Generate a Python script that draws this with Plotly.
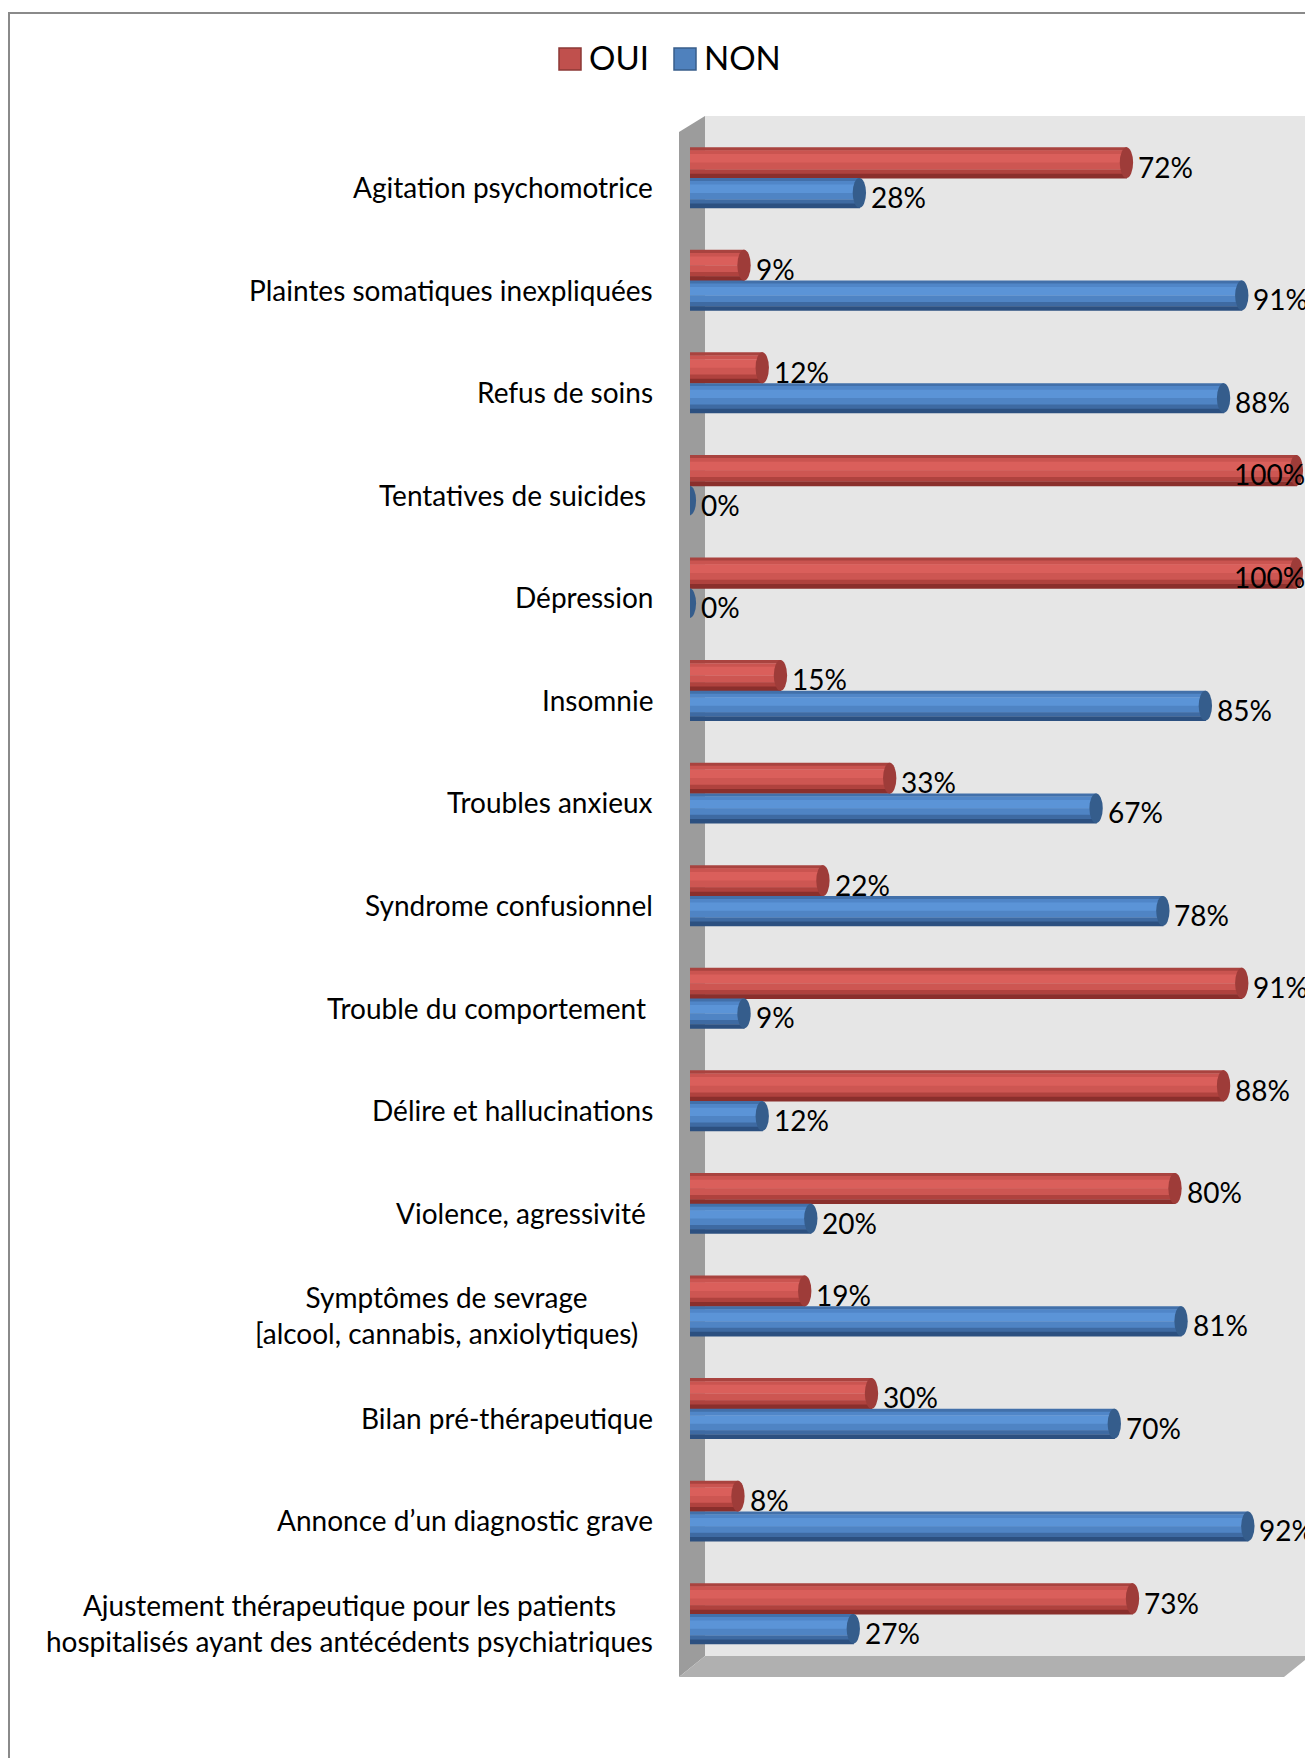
import plotly.graph_objects as go

# ---- data -------------------------------------------------------------
categories = [
    "Agitation psychomotrice",
    "Plaintes somatiques inexpliquées",
    "Refus de soins",
    "Tentatives de suicides ",
    "Dépression",
    "Insomnie",
    "Troubles anxieux",
    "Syndrome confusionnel",
    "Trouble du comportement ",
    "Délire et hallucinations",
    "Violence, agressivité ",
    "Symptômes de sevrage  <br>[alcool, cannabis, anxiolytiques)  ",
    "Bilan pré-thérapeutique",
    "Annonce d’un diagnostic grave",
    "Ajustement thérapeutique pour les patients<br>hospitalisés ayant des antécédents psychiatriques",
]
oui = [72, 9, 12, 100, 100, 15, 33, 22, 91, 88, 80, 19, 30, 8, 73]
non = [28, 91, 88, 0, 0, 85, 67, 78, 9, 12, 20, 81, 70, 92, 27]
series_names = ["OUI", "NON"]

# ---- canvas geometry (pixels) ------------------------------------------
W, H = 1305, 1758
FONT = "Lato, 'Open Sans', sans-serif"


def px(x):
    return x / W


def py(y):
    return 1 - y / H


X0_PX = 690.0            # value 0
PX_PER_PCT = 6.07        # pixels per percent
X_MAX = (W - X0_PX) / PX_PER_PCT
Y_FIRST, Y_STEP = 178.0, 102.57   # first group centre, group spacing
y_top_px = Y_FIRST - 0.5 * Y_STEP
y_bot_px = Y_FIRST + (len(categories) - 0.5) * Y_STEP

idx = list(range(len(categories)))

# cylinder shading: (from, to, colour) as fractions of bar thickness
red_bands = [
    (0.00, 0.10, "#A9433F"),
    (0.10, 0.22, "#CA5450"),
    (0.22, 0.50, "#DA5F5B"),
    (0.50, 0.72, "#CD5652"),
    (0.72, 0.86, "#AF423E"),
    (0.86, 1.00, "#8A2F2C"),
]
blue_bands = [
    (0.00, 0.10, "#4270AA"),
    (0.10, 0.22, "#5086C8"),
    (0.22, 0.50, "#5B94D7"),
    (0.50, 0.72, "#4F84C4"),
    (0.72, 0.86, "#3E6AA2"),
    (0.86, 1.00, "#2C5080"),
]

series = [
    dict(name=series_names[0], values=oui, offset=-0.30, width=0.30,
         bands=red_bands, cap="#9E3C39", legend="#C0504D", legend_line="#8C3836"),
    dict(name=series_names[1], values=non, offset=0.0, width=0.29,
         bands=blue_bands, cap="#355D8C", legend="#4F81BD", legend_line="#385D8A"),
]

fig = go.Figure()
shapes = []
annotations = []

# ---- 3D box: back wall, left wall, floor, outer border -----------------
shapes.append(dict(type="rect", xref="paper", yref="paper",
                   x0=px(705), x1=px(W + 10), y0=py(1656), y1=py(116),
                   fillcolor="#E6E6E6", line_width=0, layer="below"))


def poly(points):
    d = "M " + " L ".join(f"{px(a):.5f},{py(b):.5f}" for a, b in points) + " Z"
    return d


shapes.append(dict(type="path", xref="paper", yref="paper",
                   path=poly([(679, 132), (705, 116), (705, 1656), (679, 1677)]),
                   fillcolor="#9C9C9C", line_width=0, layer="below"))
shapes.append(dict(type="path", xref="paper", yref="paper",
                   path=poly([(679, 1677), (705, 1656), (1310, 1656), (1284, 1677)]),
                   fillcolor="#B0B0B0", line_width=0, layer="below"))
shapes.append(dict(type="line", xref="paper", yref="paper",
                   x0=px(8), x1=px(W + 5), y0=py(13), y1=py(13),
                   line=dict(color="#8A8A8A", width=2)))
shapes.append(dict(type="line", xref="paper", yref="paper",
                   x0=px(9), x1=px(9), y0=py(12), y1=py(H + 5),
                   line=dict(color="#8A8A8A", width=2)))

# ---- bars -------------------------------------------------------------
for s in series:
    for f0, f1, col in s["bands"]:
        fig.add_trace(go.Bar(
            y=idx, x=s["values"], orientation="h", name=s["name"],
            width=s["width"] * (f1 - f0) + 0.004,
            offset=s["offset"] + s["width"] * f0,
            marker=dict(color=col, line=dict(width=0)),
            showlegend=False, hoverinfo="x+name",
        ))
    # rounded end cap of each cylinder
    for i, v in zip(idx, s["values"]):
        shapes.append(dict(type="circle", xref="x", yref="y",
                           x0=v - 1.2, x1=v + 1.0,
                           y0=i + s["offset"], y1=i + s["offset"] + s["width"],
                           fillcolor=s["cap"], line_width=0, layer="above"))
        # value label
        txt = f"{v}%"
        if v >= 99:
            annotations.append(dict(x=v, y=i + s["offset"] + s["width"] / 2,
                                    xref="x", yref="y", text=txt, showarrow=False,
                                    xanchor="right", yanchor="middle",
                                    xshift=10, yshift=-4,
                                    font=dict(family=FONT, size=28, color="#000")))
        else:
            annotations.append(dict(x=v, y=i + s["offset"] + s["width"] / 2,
                                    xref="x", yref="y", text=txt, showarrow=False,
                                    xanchor="left", yanchor="middle",
                                    xshift=9, yshift=-4,
                                    font=dict(family=FONT, size=28, color="#000")))

# ---- category labels ----------------------------------------------------
for i, lab in enumerate(categories):
    lines = [ln.rstrip(" ") + "\u00a0" * (len(ln) - len(ln.rstrip(" ")))
             for ln in lab.split("<br>")]
    annotations.append(dict(x=px(655), y=i, xref="paper", yref="y",
                            text="<br>".join(lines), showarrow=False,
                            xanchor="right", yanchor="middle", align="center",
                            yshift=-9,
                            font=dict(family=FONT, size=28, color="#000")))

# ---- legend -------------------------------------------------------------
legend_x = [559, 674]
for s, lx in zip(series, legend_x):
    shapes.append(dict(type="rect", xref="paper", yref="paper",
                       x0=px(lx), x1=px(lx + 22), y0=py(70), y1=py(48),
                       fillcolor=s["legend"], line=dict(color=s["legend_line"], width=1.5)))
    annotations.append(dict(x=px(lx + 28), y=py(57), xref="paper", yref="paper",
                            text=s["name"], showarrow=False,
                            xanchor="left", yanchor="middle",
                            font=dict(family=FONT, size=33, color="#000")))

fig.update_layout(
    width=W, height=H,
    margin=dict(l=0, r=0, t=0, b=0),
    paper_bgcolor="white", plot_bgcolor="rgba(0,0,0,0)",
    barmode="overlay", showlegend=False,
    shapes=shapes, annotations=annotations,
    xaxis=dict(domain=[px(X0_PX), 1], range=[0, X_MAX],
               showgrid=False, zeroline=False, showticklabels=False,
               showline=False, ticks=""),
    yaxis=dict(domain=[py(y_bot_px), py(y_top_px)],
               range=[len(categories) - 0.5, -0.5],
               showgrid=False, zeroline=False, showticklabels=False,
               showline=False, ticks=""),
)

fig.write_html("out.html")
